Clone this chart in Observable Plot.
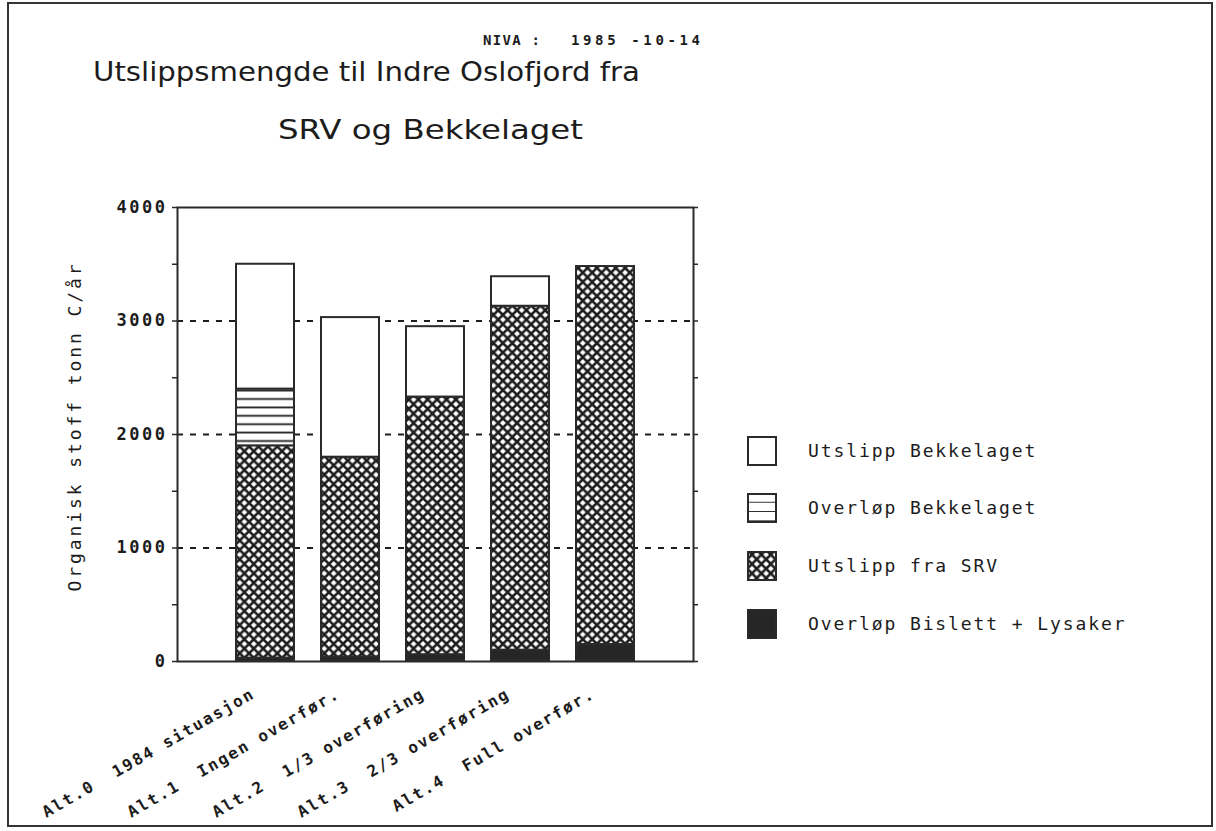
<!DOCTYPE html>
<html>
<head>
<meta charset="utf-8">
<script src="https://cdn.jsdelivr.net/npm/d3@7"></script>
<script src="https://cdn.jsdelivr.net/npm/@observablehq/plot@0.6"></script>
<style>
  html, body { margin: 0; padding: 0; background: #fff; }
  #wrap { position: relative; width: 1216px; height: 831px; overflow: hidden; }
  #chart svg { position: absolute; left: 0; top: 0; }
  #overlay { position: absolute; left: 0; top: 0; pointer-events: none; }
  #chart g[aria-label="x-axis tick label"] text { letter-spacing: 1.9px; white-space: pre; }
  #chart g[aria-label="y-axis tick label"] text { letter-spacing: 2.5px; }
  .txt { fill: #1c1c1c; font-family: "DejaVu Sans Mono", monospace; }
</style>
</head>
<body>
<div id="wrap">
  <svg id="defs" width="0" height="0" style="position:absolute">
    <defs>
      <pattern id="pSRV" patternUnits="userSpaceOnUse" width="9.4" height="9.4">
        <rect width="9.4" height="9.4" fill="#fff"/>
        <path d="M0,0 L9.4,9.4 M9.4,0 L0,9.4" stroke="#1e1e1e" stroke-width="2.6"/>
      </pattern>
      <pattern id="pOverBek" patternUnits="userSpaceOnUse" width="10" height="8.4">
        <rect width="10" height="8.4" fill="#fff"/>
        <path d="M0,4.2 L10,4.2" stroke="#1e1e1e" stroke-width="1.8"/>
      </pattern>
      <pattern id="pOverBekLeg" patternUnits="userSpaceOnUse" width="10" height="9.3" y="0.5">
        <rect width="10" height="9.3" fill="#fff"/>
        <path d="M0,9.3 L10,9.3" stroke="#1e1e1e" stroke-width="1.8"/>
      </pattern>
    </defs>
  </svg>
  <div id="chart"></div>
  <svg id="overlay" width="1216" height="831"></svg>
</div>
<script>
// ---- data ----
const categories = [
  "Alt.0  1984 situasjon",
  "Alt.1  Ingen overfør.",
  "Alt.2  1/3 overføring",
  "Alt.3  2/3 overføring",
  "Alt.4  Full overfør."
];
const seriesNames = [
  "Overløp Bislett + Lysaker",
  "Utslipp fra SRV",
  "Overløp Bekkelaget",
  "Utslipp Bekkelaget"
];
const bislettLysaker = [30, 40, 60, 100, 150];
const utslippSRV = [1870, 1760, 2270, 3030, 3330];
const overlopBekkelaget = [500, 0, 0, 0, 0];
const utslippBekkelaget = [1100, 1230, 620, 260, 0];
const yTicks = [0, 1000, 2000, 3000, 4000];
const yMinorTicks = [0, 500, 1000, 1500, 2000, 2500, 3000, 3500, 4000];
const gridValues = [1000, 2000, 3000];
const legendOrder = ["Utslipp Bekkelaget", "Overløp Bekkelaget", "Utslipp fra SRV", "Overløp Bislett + Lysaker"];

const seriesValues = [bislettLysaker, utslippSRV, overlopBekkelaget, utslippBekkelaget];
const seriesFill = ["#262626", "url(#pSRV)", "url(#pOverBek)", "#ffffff"];

const rows = [];
categories.forEach((c, i) => {
  seriesValues.forEach((arr, j) => {
    if (arr[i] > 0) rows.push({cat: c, series: seriesNames[j], value: arr[i]});
  });
});

const font = '"DejaVu Sans Mono", monospace';

const chart = Plot.plot({
  width: 1216,
  height: 831,
  marginLeft: 177,
  marginRight: 523,
  marginTop: 207,
  marginBottom: 170,
  style: {background: "transparent", color: "#1c1c1c", fontFamily: font},
  x: {domain: categories, paddingInner: 0.323, paddingOuter: 0.67, label: null, axis: null},
  y: {domain: [0, 4000], label: null, axis: null},
  color: {domain: seriesNames, range: seriesFill},
  marks: [
    Plot.ruleY(gridValues, {stroke: "#1e1e1e", strokeWidth: 2.2, strokeDasharray: "6,7"}),
    Plot.barY(rows, {x: "cat", y: "value", fill: "series", order: seriesNames, stroke: "#2a2a2a", strokeWidth: 2}),
    Plot.frame({stroke: "#2a2a2a", strokeWidth: 2}),
    Plot.axisY({anchor: "left", ticks: yMinorTicks, tickSize: 5, tickFormat: () => "", stroke: "#2a2a2a", strokeWidth: 1.5}),
    Plot.axisY({anchor: "right", ticks: yMinorTicks, tickSize: 4, tickFormat: () => "", stroke: "#2a2a2a", strokeWidth: 1.5}),
    Plot.axisY({anchor: "left", ticks: yTicks, tickSize: 0, tickPadding: 10, tickFormat: d => String(d),
      fontSize: 17, fontWeight: "bold", fontFamily: font, fill: "#1c1c1c"}),
    Plot.axisX({anchor: "bottom", tickSize: 0, tickPadding: 31, dx: -12, tickRotate: -30,
      fontSize: 16, fontWeight: "bold", fontFamily: font, fill: "#1c1c1c"})
  ]
});
document.getElementById("chart").appendChild(chart);

// ---- overlay: titles, y label, legend, border ----
const ov = d3.select("#overlay");
ov.append("rect").attr("x", 8).attr("y", 3).attr("width", 1204).attr("height", 823)
  .attr("fill", "none").attr("stroke", "#333").attr("stroke-width", 2);

ov.append("text").attr("class", "txt").attr("x", 483).attr("y", 45)
  .attr("font-size", 14).attr("font-weight", "bold")
  .attr("textLength", 57).attr("lengthAdjust", "spacing")
  .text("NIVA :");
ov.append("text").attr("class", "txt").attr("x", 571).attr("y", 45)
  .attr("font-size", 14).attr("font-weight", "bold").style("white-space", "pre")
  .attr("textLength", 129).attr("lengthAdjust", "spacing")
  .text("1985 -10-14");

ov.append("text").attr("class", "txt").attr("x", 93).attr("y", 81)
  .attr("font-size", 27).style("font-family", '"DejaVu Sans", sans-serif')
  .attr("textLength", 547).attr("lengthAdjust", "spacingAndGlyphs")
  .text("Utslippsmengde til Indre Oslofjord fra");

ov.append("text").attr("class", "txt").attr("x", 278).attr("y", 139)
  .attr("font-size", 27).style("font-family", '"DejaVu Sans", sans-serif')
  .attr("textLength", 305).attr("lengthAdjust", "spacingAndGlyphs")
  .text("SRV og Bekkelaget");

ov.append("text").attr("class", "txt")
  .attr("transform", "translate(81,428) rotate(-90)")
  .attr("text-anchor", "middle").attr("font-size", 18)
  .attr("textLength", 327).attr("lengthAdjust", "spacing")
  .text("Organisk stoff tonn C/år");

const legendFill = {
  "Utslipp Bekkelaget": "#ffffff",
  "Overløp Bekkelaget": "url(#pOverBekLeg)",
  "Utslipp fra SRV": "url(#pSRV)",
  "Overløp Bislett + Lysaker": "#262626"
};
const legendY = [451, 508, 566, 624];
legendOrder.forEach((name, i) => {
  const cy = legendY[i];
  ov.append("rect").attr("x", 748).attr("y", cy - 14).attr("width", 28).attr("height", 28)
    .attr("fill", legendFill[name]).attr("stroke", "#2a2a2a").attr("stroke-width", 2);
  ov.append("text").attr("class", "txt").attr("x", 808).attr("y", cy + 6)
    .attr("font-size", 18).style("letter-spacing", "1.9px")
    .text(name);
});
</script>
</body>
</html>
